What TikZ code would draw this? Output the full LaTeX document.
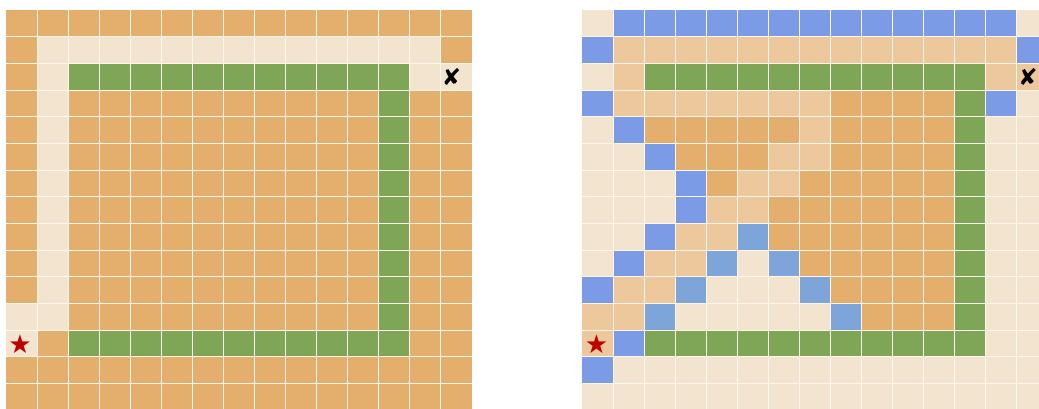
\documentclass[tikz,border=0pt]{standalone}
\usepackage{fontspec}
\newfontfamily\symfont{DejaVu Sans}
\usepackage{tikz}

\definecolor{unseen}{HTML}{E4AE6C}
\definecolor{free}{HTML}{F3E4CF}
\definecolor{frontier}{HTML}{EEC89D}
\definecolor{wall}{HTML}{7FA656}
\definecolor{route}{HTML}{7B9BE6}
\definecolor{detour}{HTML}{7EA5DA}
\definecolor{seam}{HTML}{FDF7EC}
\definecolor{starred}{HTML}{C00000}

\begin{document}
\begin{tikzpicture}[
    x=1pt, y=-1pt,
    cell o/.style={fill=unseen},
    cell l/.style={fill=free},
    cell t/.style={fill=frontier},
    cell g/.style={fill=wall},
    cell b/.style={fill=route},
    cell a/.style={fill=detour},
    gridline/.style={draw=seam, line width=1pt},
    startmark/.style={inner sep=0pt, text=starred, font=\symfont\fontsize{26}{26}\selectfont},
    goalmark/.style={inner sep=0pt, text=black, font=\symfont\fontsize{23}{23}\selectfont}
  ]
    \useasboundingbox (0,0) rectangle (1039,409);
    \clip (0,0) rectangle (1039,409);
    % left grid
    \foreach [count=\r from 0] \cells in {
        {o,o,o,o,o,o,o,o,o,o,o,o,o,o,o},
        {o,l,l,l,l,l,l,l,l,l,l,l,l,l,o},
        {o,l,g,g,g,g,g,g,g,g,g,g,g,l,l},
        {o,l,o,o,o,o,o,o,o,o,o,o,g,o,o},
        {o,l,o,o,o,o,o,o,o,o,o,o,g,o,o},
        {o,l,o,o,o,o,o,o,o,o,o,o,g,o,o},
        {o,l,o,o,o,o,o,o,o,o,o,o,g,o,o},
        {o,l,o,o,o,o,o,o,o,o,o,o,g,o,o},
        {o,l,o,o,o,o,o,o,o,o,o,o,g,o,o},
        {o,l,o,o,o,o,o,o,o,o,o,o,g,o,o},
        {o,l,o,o,o,o,o,o,o,o,o,o,g,o,o},
        {l,l,o,o,o,o,o,o,o,o,o,o,g,o,o},
        {l,o,g,g,g,g,g,g,g,g,g,g,g,o,o},
        {o,o,o,o,o,o,o,o,o,o,o,o,o,o,o},
        {o,o,o,o,o,o,o,o,o,o,o,o,o,o,o}}
      \foreach [count=\c from 0] \k in \cells
        \fill[cell \k] ({6+\c*31.07},{10+\r*26.67}) rectangle ++(31.07,26.67);
    % right grid
    \foreach [count=\r from 0] \cells in {
        {l,b,b,b,b,b,b,b,b,b,b,b,b,b,l},
        {b,t,t,t,t,t,t,t,t,t,t,t,t,t,b},
        {l,t,g,g,g,g,g,g,g,g,g,g,g,t,t},
        {b,t,t,t,t,t,t,t,o,o,o,o,g,b,l},
        {l,b,o,o,o,o,o,t,o,o,o,o,g,l,l},
        {l,l,b,o,o,o,t,t,o,o,o,o,g,l,l},
        {l,l,l,b,o,t,t,o,o,o,o,o,g,l,l},
        {l,l,l,b,t,t,o,o,o,o,o,o,g,l,l},
        {l,l,b,t,t,a,o,o,o,o,o,o,g,l,l},
        {l,b,t,t,a,l,a,o,o,o,o,o,g,l,l},
        {b,t,t,a,l,l,l,a,o,o,o,o,g,l,l},
        {t,t,a,l,l,l,l,l,a,o,o,o,g,l,l},
        {t,b,g,g,g,g,g,g,g,g,g,g,g,l,l},
        {b,l,l,l,l,l,l,l,l,l,l,l,l,l,l},
        {l,l,l,l,l,l,l,l,l,l,l,l,l,l,l}}
      \foreach [count=\c from 0] \k in \cells
        \fill[cell \k] ({582+\c*31.07},{10+\r*26.67}) rectangle ++(31.07,26.67);
    % cell seams
    \foreach \gx in {6,582} {
      \foreach \i in {1,...,14} {
        \draw[gridline] ({\gx+\i*31.07},10) -- ++(0,400);
        \draw[gridline] (\gx,{10+\i*26.67}) -- ++(466,0);
      }
    }
    \node[startmark] (startL) at (20,344) {★};
    \node[goalmark] (goalL) at (451.5,76.5) {✘};
    \node[startmark] (startR) at (596.5,344) {★};
    \node[goalmark] (goalR) at (1028,76.5) {✘};
  \end{tikzpicture}
\end{document}
